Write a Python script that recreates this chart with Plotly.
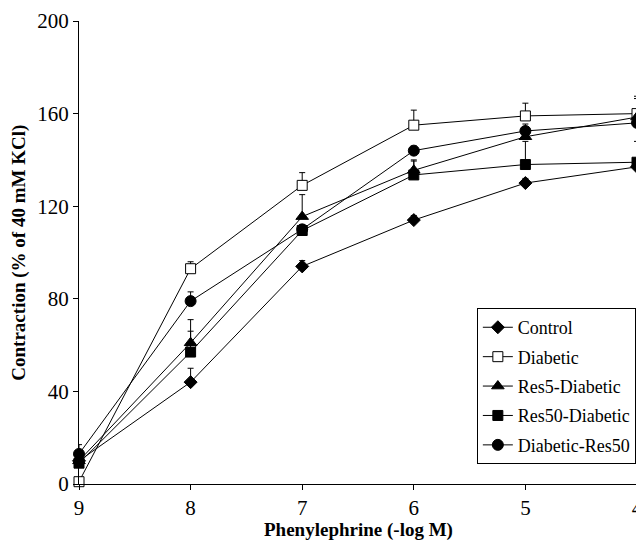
import plotly.graph_objects as go

x_vals = [9, 8, 7, 6, 5, 4]
x_tick_labels = ["9", "8", "7", "6", "5", "4"]
y_ticks = [0, 40, 80, 120, 160, 200]

series_names = ["Control", "Diabetic", "Res5-Diabetic", "Res50-Diabetic", "Diabetic-Res50"]

control = [10, 44, 94, 114, 130, 137]
control_err = [0, 6, 2.5, 2, 2, 1]

diabetic = [1, 93, 129, 155, 159, 160]
diabetic_err = [0, 3, 5.5, 6.5, 5.5, 6.5]

res5 = [10, 61, 115.5, 135.5, 150, 158.5]
res5_err = [0, 10, 9.5, 4.5, 3, 9]

res50 = [9, 57, 109.5, 133.5, 138, 139]
res50_err = [0, 9, 2, 6, 10, 9]

diab_res50 = [13, 79, 110, 144, 152.5, 156]
diab_res50_err = [4, 4, 2, 2, 3, 2]

values = [control, diabetic, res5, res50, diab_res50]
errors = [control_err, diabetic_err, res5_err, res50_err, diab_res50_err]
symbols = ["diamond", "square", "triangle-up", "square", "circle"]
fills = ["black", "white", "black", "black", "black"]
sizes = [10, 10, 11, 10, 11]

fig = go.Figure()
for i, (name, yv, ev, sym, fc, sz) in enumerate(zip(series_names, values, errors, symbols, fills, sizes)):
    fig.add_trace(go.Scatter(
        x=x_vals, y=yv, name=name, mode="lines+markers", legendgroup=f"g{i}",
        line=dict(color="black", width=1),
        marker=dict(symbol=sym, size=sz, color=fc, line=dict(color="black", width=1)),
        error_y=dict(type="data", array=ev, arrayminus=[0] * len(ev), symmetric=False,
                     color="black", thickness=1, width=3),
        cliponaxis=False,
    ))

font_family = "Liberation Serif"
fig.update_layout(
    width=636, height=537,
    margin=dict(l=71, r=7, t=13, b=61),
    plot_bgcolor="white", paper_bgcolor="white",
    font=dict(family=font_family, size=21, color="black"),
    showlegend=True,
    legend=dict(
        x=0.713, y=0.38, xanchor="left", yanchor="top",
        bordercolor="black", borderwidth=1, bgcolor="white",
        font=dict(family=font_family, size=18, color="black"),
        tracegroupgap=3,
    ),
    xaxis=dict(
        range=[9, 4], tickmode="array", tickvals=x_vals, ticktext=x_tick_labels,
        showgrid=False, zeroline=False, showline=True, linecolor="black", linewidth=1,
        ticks="outside", ticklen=5, tickcolor="black", automargin=False,
        tickfont=dict(family=font_family, size=21, color="black"),
    ),
    yaxis=dict(
        range=[0, 200], tickmode="array", tickvals=y_ticks,
        showgrid=False, zeroline=False, showline=True, linecolor="black", linewidth=1,
        ticks="outside", ticklen=5, tickcolor="black", automargin=False,
        tickfont=dict(family=font_family, size=21, color="black"),
    ),
    annotations=[
        dict(text="<b>Phenylephrine (-log M)</b>", xref="paper", yref="paper",
             x=0.5, y=-0.0994, xanchor="center", yanchor="middle", showarrow=False,
             font=dict(family=font_family, size=19, color="black")),
        dict(text="<b>Contraction (% of 40 mM KCl)</b>", xref="paper", yref="paper",
             x=-0.109, y=0.5, xanchor="center", yanchor="middle", showarrow=False,
             textangle=-90, font=dict(family=font_family, size=19, color="black")),
    ],
)

fig.write_html("out.html")
